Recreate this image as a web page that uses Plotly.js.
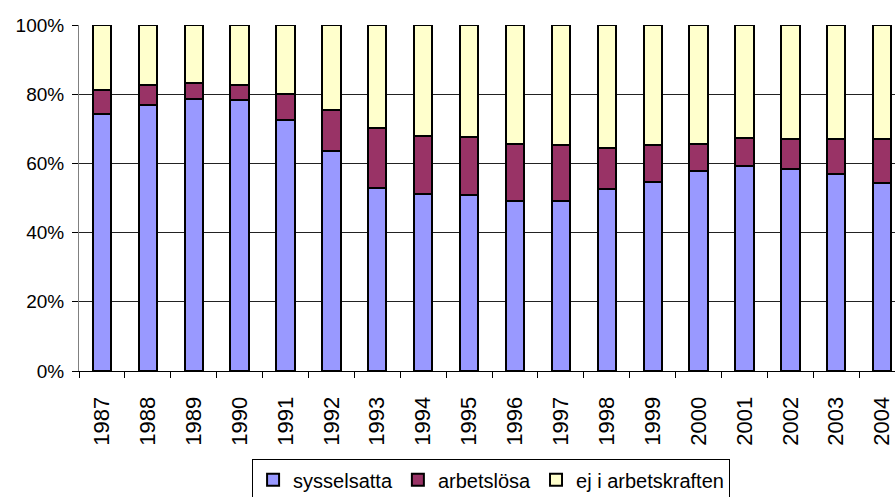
<!DOCTYPE html>
<html>
<head>
<meta charset="utf-8">
<script src="https://cdn.plot.ly/plotly-3.0.1.min.js"></script>
<style>html,body{margin:0;padding:0;overflow:hidden;background:#fff}</style>
</head>
<body>
<div id="chart" style="width:895px;height:512px"></div>
<script>
const years = ["1987","1988","1989","1990","1991","1992","1993","1994","1995","1996","1997","1998","1999","2000","2001","2002","2003","2004"];
const sysselsatta = [74.3,76.9,78.6,78.3,72.6,63.6,52.8,51.2,50.8,49.2,49.2,52.7,54.5,57.9,59.3,58.5,57.0,54.2];
const arbetslosa = [6.9,5.7,4.5,4.3,7.6,11.8,17.5,16.6,16.8,16.5,16.2,11.7,10.8,7.6,8.1,8.6,10.1,12.9];
const ejIArbetskraften = [18.8,17.4,16.9,17.4,19.8,24.6,29.7,32.2,32.4,34.3,34.6,35.6,34.7,34.5,32.6,32.9,32.9,32.9];
const seriesNames = ["sysselsatta","arbetslösa","ej i arbetskraften"];
const colors = ["#9999FF","#993366","#FFFFCC"];
const yTicks = [0,20,40,60,80,100];

const all = [sysselsatta, arbetslosa, ejIArbetskraften];
const traces = all.map((vals,i)=>({
  type:'bar', x:years, y:vals, name:seriesNames[i],
  marker:{color:colors[i], line:{color:'#000', width:2}},
  hoverinfo:'skip'
}));

const layout = {
  width:895, height:512,
  margin:{l:79, r:0, t:25, b:141, pad:0},
  barmode:'stack', bargap:0.6,
  paper_bgcolor:'#fff', plot_bgcolor:'#fff',
  font:{family:'"Liberation Sans", Arial, sans-serif', color:'#000', size:19},
  showlegend:true,
  legend:{orientation:'h', x:0.505, xanchor:'center', y:-0.255, yanchor:'top',
    bordercolor:'#000', borderwidth:1, font:{size:20}, traceorder:'normal',
    itemwidth:30, tracegroupgap:0},
  xaxis:{type:'category', range:[-0.5,17.28], tickangle:-90, tickson:'boundaries',
    ticks:'outside', ticklen:6, tickcolor:'#000', showline:true, linecolor:'#000', linewidth:1,
    showgrid:false, tickfont:{size:22}, ticklabelstandoff:16, fixedrange:true},
  yaxis:{range:[0,100], tickvals:yTicks, ticktext:yTicks.map(v=>v+'%'),
    ticks:'outside', ticklen:6, tickcolor:'#000', showline:true, linecolor:'#808080', linewidth:1,
    showgrid:true, gridcolor:'#222', gridwidth:1, zeroline:false, tickfont:{size:19},
    ticklabelstandoff:4, fixedrange:true}
};
Plotly.newPlot('chart', traces, layout, {staticPlot:true, displayModeBar:false});
</script>
</body>
</html>
